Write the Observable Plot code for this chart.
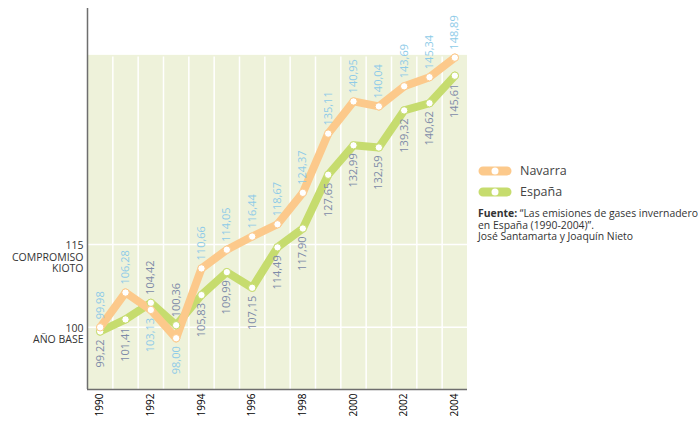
<!DOCTYPE html>
<html>
<head>
<meta charset="utf-8">
<script src="https://cdn.jsdelivr.net/npm/d3@7"></script>
<script src="https://cdn.jsdelivr.net/npm/@observablehq/plot@0.6"></script>
<style>
  body { margin: 0; background: #fff; font-family: "Open Sans", sans-serif; }
  #wrap { position: relative; width: 698px; height: 427px; overflow: hidden; }
  #legend { position: absolute; left: 478px; top: 160px; color: #444; }
  .item { display: flex; align-items: center; height: 21px; font-size: 12.5px; }
  .item svg { margin-right: 8px; }
  #source { margin-top: 6px; font-size: 10.4px; line-height: 11.5px; color: #333; white-space: nowrap; }
</style>
</head>
<body>
<div id="wrap">
  <div id="chart"></div>
  <div id="legend"></div>
</div>
<script>
const years = [1990,1991,1992,1993,1994,1995,1996,1997,1998,1999,2000,2001,2002,2003,2004];
const navarra = [99.98,106.28,103.13,98.00,110.66,114.05,116.44,118.67,124.37,135.11,140.95,140.04,143.69,145.34,148.89];
const espana  = [99.22,101.41,104.42,100.36,105.83,109.99,107.15,114.49,117.90,127.65,132.99,132.59,139.32,140.62,145.61];
const seriesNames = ["Navarra", "España"];
const seriesColors = ["#fcc98b", "#c6dc6e"];
const labelColors = ["#8ecbe8", "#7d8aa8"];
const xTicks = [1990,1992,1994,1996,1998,2000,2002,2004];
const refLines = [100, 115];
const refLabels = ["100\nAÑO BASE", "115\nCOMPROMISO\nKIOTO"];
const sourceText = "<b>Fuente:</b> “Las emisiones de gases invernadero<br>en España (1990-2004)”.<br>José Santamarta y Joaquín Nieto";

const xMin = 1989.5, xMax = 2004.5;
const yMin = 88.7, yTop = 157.8, panelTop = 149.3;

const fmt = v => v.toFixed(2).replace(".", ",");
const rows = [];
years.forEach((yr, i) => {
  const n = navarra[i], e = espana[i];
  rows.push({year: yr, value: e, series: "España", above: e > n, idx: 1});
  rows.push({year: yr, value: n, series: "Navarra", above: n >= e, idx: 0});
});
const esp = rows.filter(d => d.series === "España");
const nav = rows.filter(d => d.series === "Navarra");
const refs = refLines.map((v, i) => ({v, label: refLabels[i]}));

const plot = Plot.plot({
  width: 698, height: 427,
  marginLeft: 87, marginRight: 231, marginTop: 8, marginBottom: 38,
  style: {fontFamily: "Open Sans, sans-serif", background: "white"},
  x: {domain: [xMin, xMax], ticks: xTicks, tickFormat: d => String(d), tickRotate: -90, tickSize: 0, tickPadding: 4, label: null, fontSize: 12},
  y: {domain: [yMin, yTop], axis: null},
  marks: [
    Plot.rect([0], {x1: xMin, x2: xMax, y1: yMin, y2: panelTop, fill: "#eef2da"}),
    Plot.ruleX(d3.range(1990.5, 2004, 1), {y1: yMin, y2: panelTop - 0.3, stroke: "white", strokeWidth: 1.5}),
    Plot.ruleY(refLines, {x1: xMin, x2: xMax, stroke: "white", strokeWidth: 1.5}),
    Plot.ruleX([xMin], {stroke: "#6e6e6e", strokeWidth: 1.5}),
    Plot.ruleY([yMin], {stroke: "#6e6e6e", strokeWidth: 1.5}),
    Plot.line(esp, {x: "year", y: "value", stroke: seriesColors[1], strokeWidth: 8, strokeLinejoin: "round", strokeLinecap: "round"}),
    Plot.line(nav, {x: "year", y: "value", stroke: seriesColors[0], strokeWidth: 8, strokeLinejoin: "round", strokeLinecap: "round"}),
    Plot.dot(esp, {x: "year", y: "value", r: 3.7, fill: "white", stroke: seriesColors[1], strokeWidth: 1}),
    Plot.dot(nav, {x: "year", y: "value", r: 3.7, fill: "white", stroke: seriesColors[0], strokeWidth: 1}),
    Plot.text(rows.filter(d => d.above), {x: "year", y: "value", text: d => fmt(d.value), rotate: -90, textAnchor: "start", dy: -8, fontSize: 11, fill: d => labelColors[d.idx]}),
    Plot.text(rows.filter(d => !d.above), {x: "year", y: "value", text: d => fmt(d.value), rotate: -90, textAnchor: "end", dy: 8, fontSize: 11, fill: d => labelColors[d.idx]}),
    Plot.text(refs, {y: "v", text: "label", frameAnchor: "left", textAnchor: "end", lineAnchor: "top", lineHeight: 1.12, dx: -4, dy: -4, fontSize: 10.5, fill: "#333"})
  ]
});
document.getElementById("chart").appendChild(plot);

const legend = document.getElementById("legend");
seriesNames.forEach((name, i) => {
  const div = document.createElement("div");
  div.className = "item";
  div.innerHTML = `<svg width="34" height="12"><line x1="5" y1="6" x2="29" y2="6" stroke="${seriesColors[i]}" stroke-width="9" stroke-linecap="round"/><circle cx="17" cy="6" r="3.5" fill="white"/></svg><span>${name}</span>`;
  legend.appendChild(div);
});
const src = document.createElement("div");
src.id = "source";
src.innerHTML = sourceText;
legend.appendChild(src);
</script>
</body>
</html>
